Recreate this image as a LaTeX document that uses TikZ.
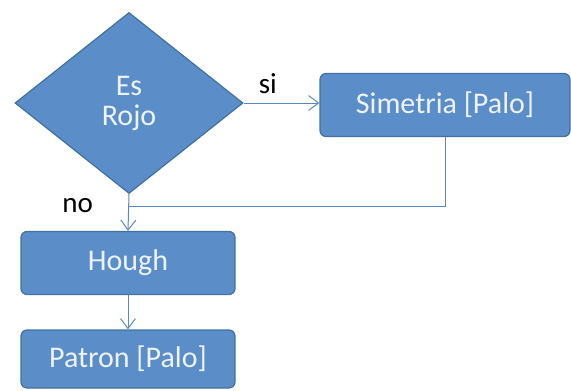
\documentclass[tikz,border=0pt]{standalone}
\usepackage{fontspec}
\setmainfont{Carlito}
\usetikzlibrary{shapes.geometric,arrows.meta}

\definecolor{boxfill}{HTML}{5B8DC9}
\definecolor{boxline}{HTML}{41719C}
\definecolor{linkcol}{HTML}{5A89C0}
\definecolor{boxtext}{HTML}{EEF3FA}

\tikzset{
  stepbox/.style={draw=boxline, fill=boxfill, line width=1.2pt, rounded corners=6pt,
    text=boxtext, font=\fontsize{30}{34}\selectfont, inner sep=0pt},
  decision/.style={draw=boxline, fill=boxfill, line width=1.2pt, diamond, aspect=1.26,
    text=boxtext, font=\fontsize{30}{34}\selectfont, inner sep=0pt, align=center},
  link/.style={draw=linkcol, line width=1pt},
  tip/.style={-{Straight Barb[length=10pt,width=15pt]}},
  answer/.style={font=\fontsize{29}{33}\selectfont, text=black}
}

\begin{document}
\begin{tikzpicture}[x=1pt, y=-1pt]
            \useasboundingbox (0,0) rectangle (571,391);
            \node[decision, minimum width=228pt, minimum height=181pt] (esrojo) at (129,103) {Es\\[-4pt]Rojo};
            \node[stepbox, minimum width=250pt, minimum height=63pt] (simetria) at (445,105) {Simetria [Palo]};
            \node[stepbox, minimum width=214pt, minimum height=63pt] (hough) at (128,263) {Hough};
            \node[stepbox, minimum width=214pt, minimum height=58pt] (patron) at (128,359) {Patron [Palo]};
            \coordinate (join) at (esrojo.south |- 0,206);
            \draw[link, tip] (esrojo.east) -- (esrojo.east -| simetria.west) node[answer, pos=0.32, above=5pt] {si};
            \draw[link, tip] (esrojo.south) -- (hough.north) node[answer, pos=0.3, left=32pt] {no};
            \draw[link] (simetria.south) |- (join);
            \draw[link, tip] (hough.south) -- (patron.north);
        \end{tikzpicture}
\end{document}
